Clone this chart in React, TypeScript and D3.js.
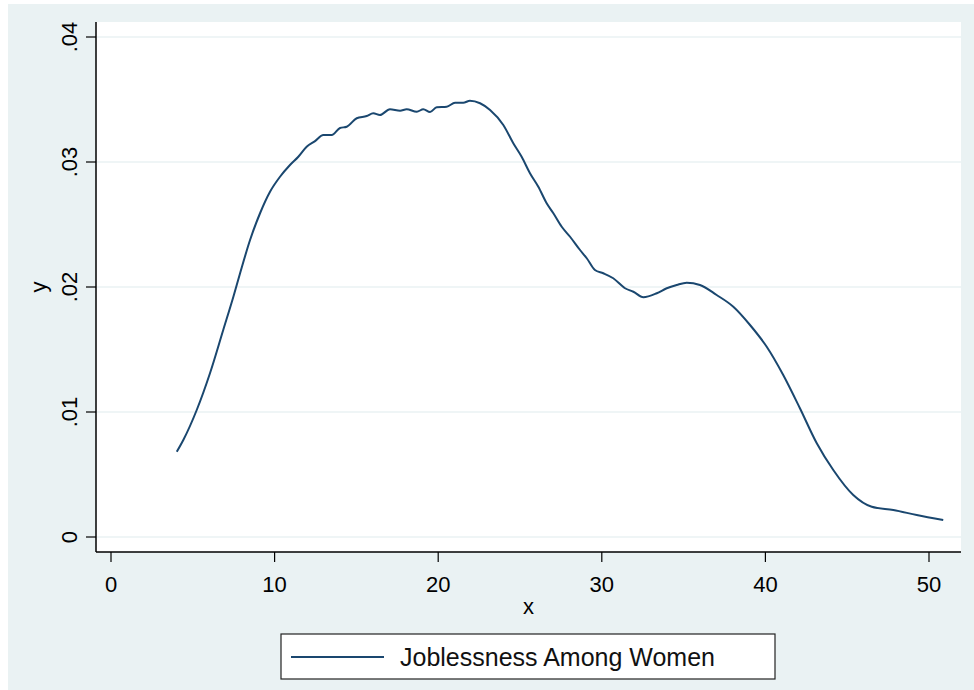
import React from "react";
import * as d3 from "d3";

const xValues = [4.02, 4.42, 5.24, 6.05, 6.86, 7.48, 7.89, 8.5, 9.11, 9.72, 10.33, 10.94, 11.45, 11.96, 12.45, 12.98, 13.49, 14.0, 14.41, 15.02, 15.63, 16.03, 16.44, 17.05, 17.67, 18.07, 18.69, 19.09, 19.5, 19.91, 20.52, 21.03, 21.53, 21.94, 22.56, 23.17, 23.98, 24.59, 25.1, 25.61, 26.12, 26.63, 27.04, 27.55, 28.06, 28.67, 29.08, 29.58, 30.09, 30.7, 31.42, 31.93, 32.54, 33.36, 33.97, 34.58, 35.19, 36.0, 37.02, 38.04, 39.06, 40.08, 41.09, 42.11, 43.14, 44.15, 45.37, 46.5, 47.82, 49.25, 50.87];
const yValues = [0.00682, 0.00776, 0.01016, 0.0131, 0.01656, 0.01922, 0.0211, 0.02376, 0.0259, 0.02762, 0.02882, 0.02976, 0.03042, 0.03122, 0.03165, 0.03216, 0.03216, 0.03272, 0.03282, 0.0335, 0.03368, 0.0339, 0.03376, 0.03422, 0.0341, 0.03422, 0.03402, 0.03422, 0.034, 0.03438, 0.03442, 0.03474, 0.03474, 0.0349, 0.0347, 0.03416, 0.03296, 0.0315, 0.03042, 0.0291, 0.02802, 0.0267, 0.0259, 0.02482, 0.02402, 0.02296, 0.0223, 0.02136, 0.0211, 0.0207, 0.0199, 0.01962, 0.01918, 0.0195, 0.0199, 0.02016, 0.02034, 0.02016, 0.01936, 0.01842, 0.01696, 0.01522, 0.01296, 0.0103, 0.0075, 0.00536, 0.00336, 0.00242, 0.00216, 0.00176, 0.00136];
const xTicks = [0, 10, 20, 30, 40, 50];
const yTicks = [0, 0.01, 0.02, 0.03, 0.04];
const yTickLabels = ["0", ".01", ".02", ".03", ".04"];
const seriesName = "Joblessness Among Women";

export default function App() {
  const W = 974, H = 690;
  const plotL = 96, plotR = 961, plotT = 22, plotB = 552;
  const x = d3.scaleLinear().domain([0, 50]).range([111, 929]);
  const y = d3.scaleLinear().domain([0, 0.04]).range([537, 37]);
  const data = xValues.map((v, i) => [v, yValues[i]] as [number, number]);
  const line = d3.line<[number, number]>().x(d => x(d[0])).y(d => y(d[1])).curve(d3.curveMonotoneX);
  const bg = "#eaf2f3";
  const font = "'Liberation Sans', Arial, sans-serif";
  return (
    <svg width={W} height={H} style={{ position: "absolute", left: 0, top: 0 }} fontFamily={font}>
      <rect x={0} y={0} width={W} height={H} fill="#ffffff" />
      <rect x={8} y={4} width={W - 8} height={H - 4} fill={bg} />
      <rect x={plotL} y={plotT} width={plotR - plotL} height={plotB - plotT} fill="#ffffff" />
      {yTicks.map(t => (
        <line key={"g" + t} x1={plotL} x2={plotR} y1={y(t)} y2={y(t)} stroke={bg} strokeWidth={1.5} />
      ))}
      <path d={line(data) || ""} fill="none" stroke="#1a476f" strokeWidth={2} strokeLinejoin="round" />
      <line x1={plotL} x2={plotL} y1={plotT} y2={plotB} stroke="#000" strokeWidth={1.5} />
      <line x1={plotL} x2={plotR} y1={plotB} y2={plotB} stroke="#000" strokeWidth={1.5} />
      {yTicks.map((t, i) => (
        <g key={"yt" + t}>
          <line x1={86} x2={plotL} y1={y(t)} y2={y(t)} stroke="#000" strokeWidth={1.2} />
          <text transform={`translate(77,${y(t)}) rotate(-90)`} textAnchor="middle" fontSize={22} fill="#000">{yTickLabels[i]}</text>
        </g>
      ))}
      {xTicks.map(t => (
        <g key={"xt" + t}>
          <line x1={x(t)} x2={x(t)} y1={plotB} y2={562} stroke="#000" strokeWidth={1.2} />
          <text x={x(t)} y={592} textAnchor="middle" fontSize={22} fill="#000">{t}</text>
        </g>
      ))}
      <text x={(plotL + plotR) / 2} y={614} textAnchor="middle" fontSize={22} fill="#000">x</text>
      <text transform={`translate(46,${y(0.02)}) rotate(-90)`} textAnchor="middle" fontSize={22} fill="#000">y</text>
      <rect x={281} y={634} width={494} height={45} fill="#ffffff" stroke="#222" strokeWidth={1.2} />
      <line x1={291} x2={384} y1={657} y2={657} stroke="#1a476f" strokeWidth={2} />
      <text x={400} y={666} fontSize={25} fill="#111">{seriesName}</text>
    </svg>
  );
}
